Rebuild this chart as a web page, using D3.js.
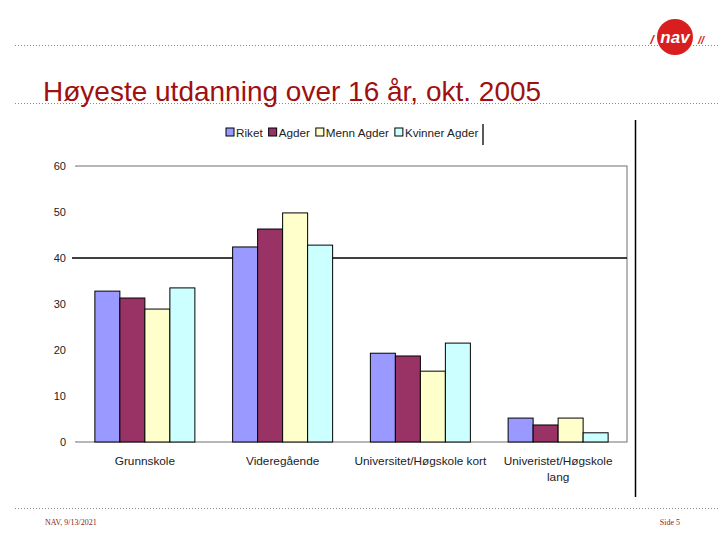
<!DOCTYPE html>
<html><head><meta charset="utf-8">
<script src="https://cdn.jsdelivr.net/npm/d3@7/dist/d3.min.js"></script>
<style>body{margin:0;background:#fff}svg{display:block}</style>
</head><body>
<script>
const categories = ["Grunnskole", "Videregående", "Universitet/Høgskole kort", "Univeristet/Høgskole\nlang"];
const seriesNames = ["Riket", "Agder", "Menn Agder", "Kvinner Agder"];
const riket = [32.8, 42.4, 19.3, 5.2];
const agder = [31.3, 46.3, 18.7, 3.7];
const mennAgder = [28.9, 49.8, 15.4, 5.2];
const kvinnerAgder = [33.5, 42.8, 21.5, 2.0];
const yTicks = [0, 10, 20, 30, 40, 50, 60];
const colors = ["#9999FF", "#993366", "#FFFFCC", "#CCFFFF"];
const series = [riket, agder, mennAgder, kvinnerAgder];

(function() {
const W = 720, H = 540;
const svg = d3.select("body").append("svg").attr("width", W).attr("height", H);
const FONT = "Liberation Sans, Arial, sans-serif";
const darkRed = "#A01010";
// dotted rules
[[45, 15, 720], [103, 15, 720], [508, 15, 720]].forEach(([yy, x1, x2]) => {
  svg.append("line").attr("x1", x1).attr("x2", x2).attr("y1", yy + 0.5).attr("y2", yy + 0.5)
    .attr("stroke", "#888").attr("stroke-width", 1).attr("stroke-dasharray", "1,2");
});

// logo
const logo = svg.append("g");
logo.append("circle").attr("cx", 675).attr("cy", 37).attr("r", 18).attr("fill", "#D81E1E");
logo.append("text").attr("x", 675).attr("y", 43).attr("text-anchor", "middle")
  .attr("font-family", FONT).attr("font-weight", "bold").attr("font-style", "italic")
  .attr("font-size", 17).attr("fill", "#fff").text("nav");
logo.append("text").attr("x", 652).attr("y", 44).attr("text-anchor", "middle")
  .attr("font-family", FONT).attr("font-weight", "bold").attr("font-style", "italic")
  .attr("font-size", 13).attr("fill", "#D81E1E").text("/");
logo.append("text").attr("x", 701).attr("y", 44).attr("text-anchor", "middle")
  .attr("font-family", FONT).attr("font-weight", "bold").attr("font-style", "italic")
  .attr("font-size", 11).attr("fill", "#D81E1E").text("//");

// title
svg.append("text").attr("x", 43).attr("y", 101)
  .attr("font-family", FONT).attr("font-size", 28)
  .attr("fill", darkRed).text("Høyeste utdanning over 16 år, okt. 2005");

// footer
svg.append("text").attr("x", 45).attr("y", 525).attr("font-family", "Liberation Serif, serif")
  .attr("font-size", 8).attr("fill", "#8B1A1A").text("NAV, 9/13/2021");
svg.append("text").attr("x", 680).attr("y", 525).attr("text-anchor", "end").attr("font-family", "Liberation Serif, serif")
  .attr("font-size", 8).attr("fill", "#8B1A1A").text("Side 5");

// chart
const pLeft = 76, pRight = 627, pTop = 166, pBottom = 442;
const x = d3.scaleBand().domain(categories).range([pLeft, pRight]).paddingInner(0.274).paddingOuter(0.137);
const xs = d3.scaleBand().domain(seriesNames).range([0, x.bandwidth()]);
const y = d3.scaleLinear().domain([0, 60]).range([pBottom, pTop]);

// plot border
svg.append("rect").attr("x", pLeft).attr("y", pTop).attr("width", pRight - pLeft).attr("height", pBottom - pTop)
  .attr("fill", "none").attr("stroke", "#888").attr("stroke-width", 1.2);
svg.append("rect").attr("x", pLeft - 1).attr("y", pTop + 1).attr("width", 2).attr("height", pBottom - pTop - 2).attr("fill", "#fff");
// black 40 line
svg.append("line").attr("x1", 72).attr("x2", pRight).attr("y1", y(40)).attr("y2", y(40))
  .attr("stroke", "#000").attr("stroke-width", 1.3);

// y tick labels
const yAxis = d3.axisLeft(y).tickValues(yTicks).tickSize(0).tickPadding(0);
const ya = svg.append("g").attr("transform", `translate(66,0)`).call(yAxis);
ya.select(".domain").remove();
ya.selectAll("text").attr("font-family", FONT).attr("font-size", 11).attr("fill", "#222");

// bars
const g = svg.append("g");
categories.forEach((c, ci) => {
  seriesNames.forEach((s, si) => {
    const v = series[si][ci];
    g.append("rect").attr("x", x(c) + xs(s)).attr("y", y(v)).attr("width", xs.bandwidth()).attr("height", y(0) - y(v))
      .attr("fill", colors[si]).attr("stroke", "#000").attr("stroke-width", 1);
  });
});

// x labels
const xAxis = d3.axisBottom(x).tickSize(0).tickPadding(0);
const xa = svg.append("g").attr("transform", `translate(0,${pBottom})`).call(xAxis);
xa.select(".domain").remove();
xa.selectAll("text").each(function(d) {
  const t = d3.select(this);
  t.text(null).attr("y", 0).attr("dy", null);
  d.split("\n").forEach((line, i) => {
    t.append("tspan").attr("x", 0).attr("y", 23 + i * 16).text(line);
  });
}).attr("font-family", FONT).attr("font-size", 11.8).attr("fill", "#222");

// legend (sequential layout)
const leg = svg.append("g");
let lx = 226;
seriesNames.forEach((s, i) => {
  leg.append("rect").attr("x", lx).attr("y", 128).attr("width", 8).attr("height", 8)
    .attr("fill", colors[i]).attr("stroke", "#000").attr("stroke-width", 1);
  const t = leg.append("text").attr("x", lx + 10).attr("y", 136.5)
    .attr("font-family", FONT).attr("font-size", 11.7).attr("fill", "#222").text(s);
  lx = lx + 10 + t.node().getComputedTextLength() + 6;
});
svg.append("line").attr("x1", 483).attr("x2", 483).attr("y1", 124).attr("y2", 145).attr("stroke", "#000").attr("stroke-width", 1.3);

// vertical frame line
svg.append("line").attr("x1", 635.5).attr("x2", 635.5).attr("y1", 120).attr("y2", 497).attr("stroke", "#000").attr("stroke-width", 1.5);
})();
</script>
</body></html>
